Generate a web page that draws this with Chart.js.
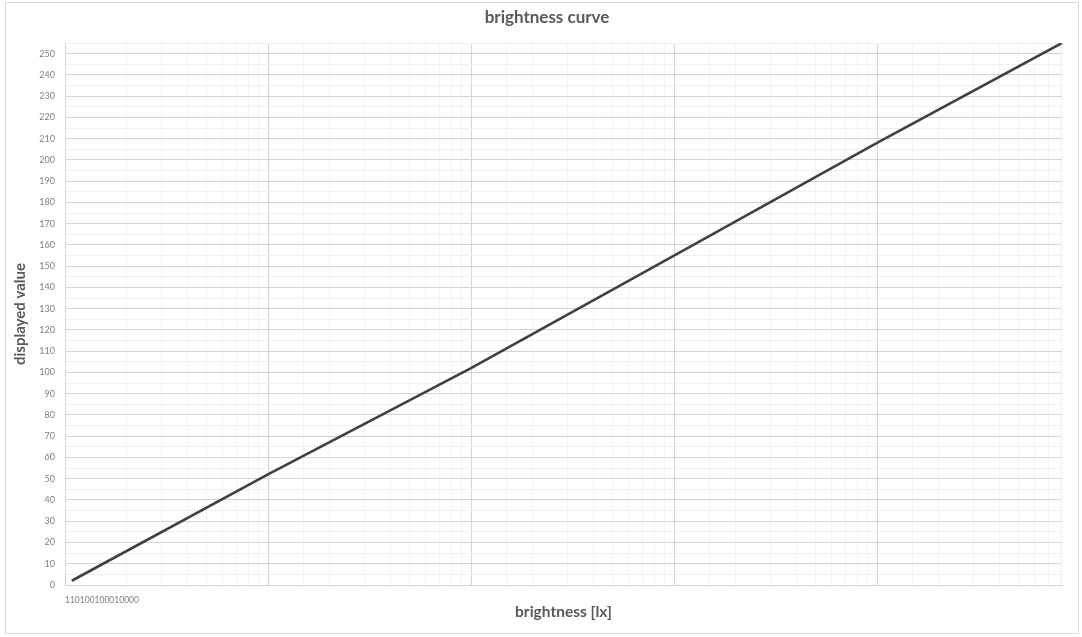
<!DOCTYPE html>
<html>
<head>
<meta charset="utf-8">
<script src="https://cdn.jsdelivr.net/npm/chart.js@4.4.1/dist/chart.umd.min.js"></script>
<style>
  html, body { margin: 0; padding: 0; background: #ffffff; }
  #wrap { width: 1082px; height: 637px; }
</style>
</head>
<body>
<div id="wrap"><canvas id="c" width="1082" height="637"></canvas></div>
<script>
// ---- data ----
const luxValues     = [1.08, 10, 100, 1000, 10000, 81500];
const displayValues = [2, 52, 102, 155, 208, 255];
const xTickLabels   = ['1', '10', '100', '1000', '10000'];
const chartTitle    = 'brightness curve';
const xAxisTitle    = 'brightness [lx]';
const yAxisTitle    = 'displayed value';

const points = luxValues.map((x, i) => ({ x: x, y: displayValues[i] }));

function isDecade(v) {
  const l = Math.log10(v);
  return Math.abs(l - Math.round(l)) < 1e-9;
}

const frame = {
  id: 'frame',
  beforeDraw(chart) {
    const ctx = chart.ctx;
    ctx.save();
    ctx.fillStyle = '#ffffff';
    ctx.fillRect(0, 0, chart.width, chart.height);
    ctx.strokeStyle = '#d9d9d9';
    ctx.lineWidth = 1;
    ctx.strokeRect(5.5, 2.5, 1073, 631);
    ctx.restore();
  }
};

const texts = {
  id: 'texts',
  afterDraw(chart) {
    const ctx = chart.ctx;
    const sx = chart.scales.x;
    ctx.save();
    // chart title
    ctx.font = 'bold 17px Lato';
    ctx.fillStyle = '#595959';
    ctx.textAlign = 'center';
    ctx.textBaseline = 'middle';
    ctx.fillText(chartTitle, 547, 18);
    // x tick labels, run together as in the reference
    ctx.font = '8.5px Lato';
    ctx.fillStyle = '#7f7f7f';
    ctx.textAlign = 'left';
    let x = sx.left;
    const y = sx.top + 15;
    xTickLabels.forEach(t => {
      ctx.fillText(t, x, y);
      x += ctx.measureText(t).width;
    });
    ctx.restore();
  }
};

new Chart(document.getElementById('c'), {
  type: 'line',
  data: {
    datasets: [{
      data: points,
      borderColor: '#404040',
      borderWidth: 2.6,
      pointRadius: 0,
      tension: 0,
      fill: false
    }]
  },
  options: {
    responsive: false,
    animation: false,
    devicePixelRatio: 1,
    layout: { padding: { left: 0, right: 20, top: 43, bottom: 0 } },
    plugins: {
      legend: { display: false },
      tooltip: { enabled: false },
      title: { display: false }
    },
    scales: {
      x: {
        type: 'logarithmic',
        min: 1,
        max: 81500,
        afterFit(s) { s.height = 52; },
        ticks: { display: false },
        grid: {
          drawTicks: false,
          lineWidth: 1,
          color: c => (c.tick && isDecade(c.tick.value)) ? '#d4d4d4' : '#f3f3f3'
        },
        border: { color: '#d4d4d4' },
        title: {
          display: true,
          text: xAxisTitle,
          color: '#595959',
          font: { family: 'Lato', size: 15.5, weight: 'bold' },
          padding: { top: 0, bottom: 16 }
        }
      },
      y: {
        type: 'linear',
        min: 0,
        max: 255,
        afterFit(s) { s.width = 65; },
        ticks: {
          stepSize: 5,
          autoSkip: false,
          padding: 10,
          color: '#7f7f7f',
          font: { family: 'Lato', size: 9 },
          callback: v => (v % 10 === 0 ? String(v) : '')
        },
        grid: {
          drawTicks: false,
          lineWidth: 1,
          color: c => (c.tick && c.tick.value % 10 === 0) ? '#d4d4d4' : '#efefef'
        },
        border: { color: '#d4d4d4' },
        title: {
          display: true,
          text: yAxisTitle,
          color: '#595959',
          font: { family: 'Lato', size: 15, weight: 'bold' },
          padding: { top: 11, bottom: 0 }
        }
      }
    }
  },
  plugins: [frame, texts]
});
</script>
</body>
</html>
